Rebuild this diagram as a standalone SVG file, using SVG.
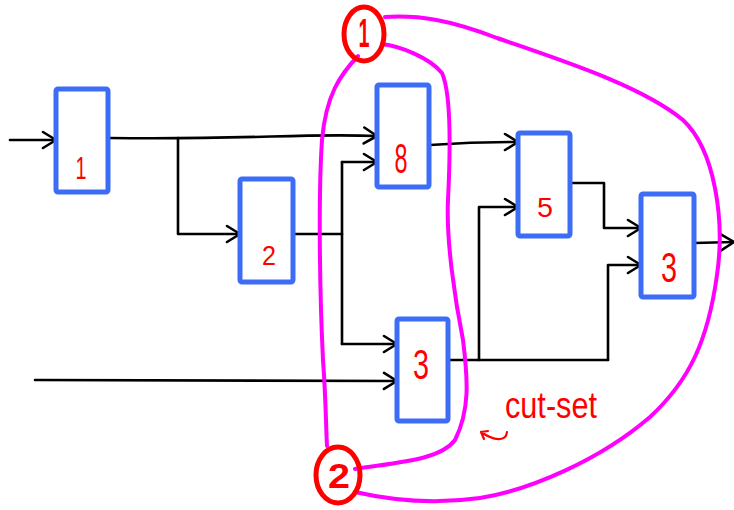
<svg xmlns="http://www.w3.org/2000/svg" width="734" height="510" viewBox="0 0 734 510">
  <style>
    .box { fill: #ffffff; stroke: #3d6cf7; stroke-width: 5; }
    .num { fill: #ff0000; font-family: "Liberation Sans", Arial, sans-serif; text-anchor: middle; }
    .wire { fill: none; stroke: #000000; stroke-width: 2.6; stroke-linecap: round; stroke-linejoin: round; }
    .cut { fill: none; stroke: #ff00ff; stroke-width: 4; stroke-linecap: round; }
    .tag { fill: none; stroke: #ff0000; stroke-width: 5; }
    .tagnum { fill: #ff0000; font-family: "Liberation Sans", Arial, sans-serif; font-weight: bold; text-anchor: middle; }
  </style>
  <defs>
    <marker id="arrow" viewBox="0 0 16 20" refX="15" refY="10" markerWidth="16" markerHeight="20" markerUnits="userSpaceOnUse" orient="auto">
      <polyline points="2,2 15,10 2,18" fill="none" stroke="#000" stroke-width="2.6" stroke-linecap="round" stroke-linejoin="round"/>
    </marker>
  </defs>

  <rect width="734" height="510" fill="#ffffff"/>

  <!-- connectors -->
  <g id="connectors">
    <path class="wire" d="M10 140 L56 140" marker-end="url(#arrow)"/>
    <path class="wire" d="M109 138 C 250 140, 300 133, 377 136" marker-end="url(#arrow)"/>
    <path class="wire" d="M178 138 L178 234 L240 234" marker-end="url(#arrow)"/>
    <path class="wire" d="M293 234 L342 234"/>
    <path class="wire" d="M342 162 L342 344"/>
    <path class="wire" d="M342 162 L377 162" marker-end="url(#arrow)"/>
    <path class="wire" d="M342 344 L397 344" marker-end="url(#arrow)"/>
    <path class="wire" d="M35 380 L397 381" marker-end="url(#arrow)"/>
    <path class="wire" d="M430 145 C 460 143, 490 142, 518 142" marker-end="url(#arrow)"/>
    <path class="wire" d="M448 360 L608 360"/>
    <path class="wire" d="M479 360 L479 207 L518 207" marker-end="url(#arrow)"/>
    <path class="wire" d="M608 360 L608 265 L641 265" marker-end="url(#arrow)"/>
    <path class="wire" d="M570 183 L604 183 L604 228 L641 228" marker-end="url(#arrow)"/>
    <path class="wire" d="M694 243 L734 242" marker-end="url(#arrow)"/>
  </g>

  <!-- blocks -->
  <g id="block-1">
    <rect class="box" x="56" y="89" width="52" height="103" rx="2"/>
    <text class="num" x="81" y="179" font-size="31" textLength="11" lengthAdjust="spacingAndGlyphs">1</text>
  </g>
  <g id="block-2">
    <rect class="box" x="240" y="179" width="53" height="103" rx="2"/>
    <text class="num" x="269" y="265" font-size="28" textLength="14" lengthAdjust="spacingAndGlyphs">2</text>
  </g>
  <g id="block-8">
    <rect class="box" x="377" y="85" width="52" height="102" rx="2"/>
    <text class="num" x="401" y="173" font-size="42" textLength="13" lengthAdjust="spacingAndGlyphs">8</text>
  </g>
  <g id="block-3a">
    <rect class="box" x="397" y="319" width="51" height="102" rx="2"/>
    <text class="num" x="421" y="379" font-size="42" textLength="16" lengthAdjust="spacingAndGlyphs">3</text>
  </g>
  <g id="block-5">
    <rect class="box" x="518" y="133" width="52" height="103" rx="2"/>
    <text class="num" x="545" y="217" font-size="28" textLength="16" lengthAdjust="spacingAndGlyphs">5</text>
  </g>
  <g id="block-3b">
    <rect class="box" x="641" y="194" width="53" height="103" rx="2"/>
    <text class="num" x="669" y="282" font-size="42" textLength="16" lengthAdjust="spacingAndGlyphs">3</text>
  </g>

  <!-- cut curves -->
  <g id="cut-curves">
    <path class="cut" d="M358 56 C 340 75, 326 95, 322 140 C 318 200, 320 300, 323 360 C 326 400, 326 430, 327 446"/>
    <path class="cut" d="M382 44 C 400 46, 430 58, 442 73 C 452 95, 450 160, 448 200 C 446 240, 455 300, 463 340 C 468 380, 470 410, 455 440 C 440 460, 400 462, 355 469"/>
    <path class="cut" d="M385 17 C 420 15, 450 20, 497 38 C 560 60, 640 85, 683 120 C 715 150, 725 220, 717 275 C 708 340, 690 380, 650 417 C 600 460, 530 490, 480 498 C 430 505, 390 500, 355 492"/>
  </g>

  <!-- cut tags -->
  <g id="tag-1">
    <ellipse class="tag" cx="364" cy="34" rx="20" ry="27"/>
    <text class="tagnum" x="364" y="47" font-size="40" textLength="11" lengthAdjust="spacingAndGlyphs">1</text>
  </g>
  <g id="tag-2">
    <ellipse class="tag" cx="338" cy="475" rx="22" ry="28"/>
    <text class="tagnum" x="339" y="488" font-size="35" textLength="22" lengthAdjust="spacingAndGlyphs">2</text>
  </g>

  <!-- label -->
  <g id="cut-set-label">
    <text x="505" y="418" font-size="36" fill="#ff0000" font-family="Liberation Sans, Arial, sans-serif" textLength="92" lengthAdjust="spacingAndGlyphs">cut-set</text>
    <path d="M507 432 C 506 442, 494 441, 481 432 M481 432 L488 431 M481 432 L484 439" fill="none" stroke="#ff0000" stroke-width="2.2" stroke-linecap="round"/>
  </g>
</svg>
